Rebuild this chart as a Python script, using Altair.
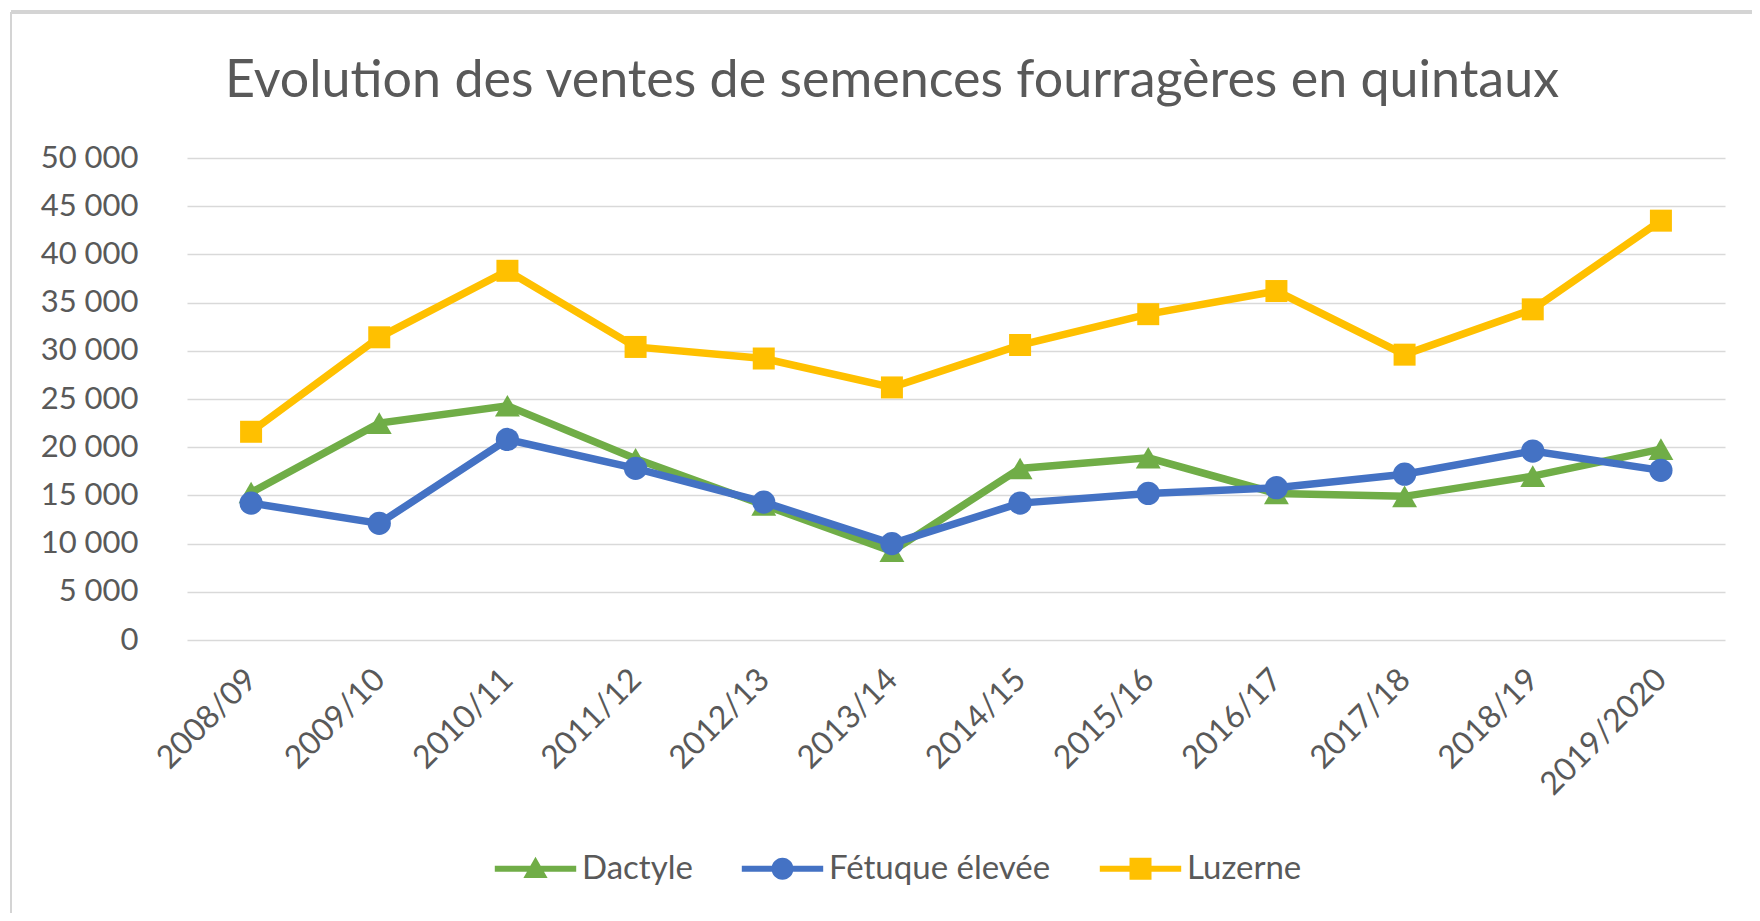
import altair as alt
import pandas as pd

categories = ["2008/09", "2009/10", "2010/11", "2011/12", "2012/13", "2013/14",
              "2014/15", "2015/16", "2016/17", "2017/18", "2018/19", "2019/2020"]
series = ["Dactyle", "Fétuque élevée", "Luzerne"]
dactyle = [15300, 22500, 24300, 18800, 14000, 9200, 17800, 18900, 15200, 14900, 17000, 19800]
fetuque = [14200, 12100, 20800, 17800, 14300, 10000, 14200, 15200, 15800, 17200, 19600, 17600]
luzerne = [21600, 31400, 38300, 30400, 29200, 26200, 30600, 33800, 36200, 29600, 34300, 43500]
colors = ["#70AD47", "#4472C4", "#FFC000"]
marker_shapes = ["triangle-up", "circle", "square"]
marker_sizes = [620, 540, 484]

rows = []
for name, vals in zip(series, [dactyle, fetuque, luzerne]):
    for c, v in zip(categories, vals):
        rows.append({"Année": c, "Série": name, "Quintaux": v})
df = pd.DataFrame(rows)

FONT = "Lato"
TXT = "#595959"

line_rect = "M-3.7,-0.27L3.7,-0.27L3.7,0.27L-3.7,0.27Z"
legend_paths = [
    line_rect + "M0,-1.1L1.1,0.85L-1.1,0.85Z",
    line_rect + "M-1,0A1,1 0 1,1 1,0A1,1 0 1,1 -1,0Z",
    line_rect + "M-1,-1L1,-1L1,1L-1,1Z",
]

x_enc = alt.X("Année:N", sort=categories, title=None,
              scale=alt.Scale(type="point", padding=0.5),
              axis=alt.Axis(labelAngle=315, labelAlign="right", labelBaseline="middle",
                            labelPadding=34, ticks=False, domain=False, grid=False,
                            labelFont=FONT, labelFontSize=32, labelColor=TXT))
y_enc = alt.Y("Quintaux:Q", title=None,
              scale=alt.Scale(domain=[0, 50000], nice=False),
              axis=alt.Axis(values=list(range(0, 50001, 5000)), ticks=False, domain=False,
                            labelPadding=49, labelFont=FONT, labelFontSize=31, labelColor=TXT,
                            gridColor="#D9D9D9", gridWidth=1.6,
                            labelExpr="replace(format(datum.value, ','), regexp(',', 'g'), ' ')"))

base = alt.Chart(df)
layers = []
for name, col, shp, sz in zip(series, colors, marker_shapes, marker_sizes):
    sub = base.transform_filter(alt.datum["Série"] == name)
    layers.append(sub.mark_line(strokeWidth=7.5, color=col).encode(x=x_enc, y=y_enc))
    layers.append(sub.mark_point(filled=True, shape=shp, size=sz, opacity=1, color=col)
                  .encode(x=x_enc, y=y_enc))

leg = dict(title=None, orient="none", legendX=332, legendY=694, direction="horizontal",
           symbolOpacity=1, symbolSize=484, symbolStrokeWidth=0,
           labelFont=FONT, labelFontSize=33, labelColor=TXT, labelOffset=30,
           columnPadding=48, labelLimit=400)
legend_layer = base.mark_point(filled=True, opacity=0, size=484).encode(
    x=x_enc, y=y_enc,
    color=alt.Color("Série:N", scale=alt.Scale(domain=series, range=colors),
                    title=None, legend=alt.Legend(**leg)),
    shape=alt.Shape("Série:N", scale=alt.Scale(domain=series, range=legend_paths),
                    title=None, legend=alt.Legend(**leg)),
)

frame = alt.Chart(alt.Data(values=[{"k": 1}]))
top_border = frame.mark_rule(color="#D4D4D4", strokeWidth=4).encode(
    x=alt.value(-176), x2=alt.value(1580), y=alt.value(-146))
left_border = frame.mark_rule(color="#D4D4D4", strokeWidth=2).encode(
    x=alt.value(-176), y=alt.value(-146), y2=alt.value(760))

chart = alt.layer(top_border, left_border, *layers, legend_layer).properties(
    width=1538, height=482,
    autosize=alt.AutoSizeParams(type="none"),
    padding={"left": 179, "top": 150, "right": 27, "bottom": 273},
    background="white",
    title=alt.TitleParams("Evolution des ventes de semences fourragères en quintaux",
                          font=FONT, fontSize=52, fontWeight="normal", color=TXT,
                          anchor="middle", dx=-64, baseline="alphabetic", offset=0, dy=139),
).configure_view(strokeOpacity=0, strokeWidth=0)

chart.save("out.html", embed_options={"renderer": "svg", "actions": False})
